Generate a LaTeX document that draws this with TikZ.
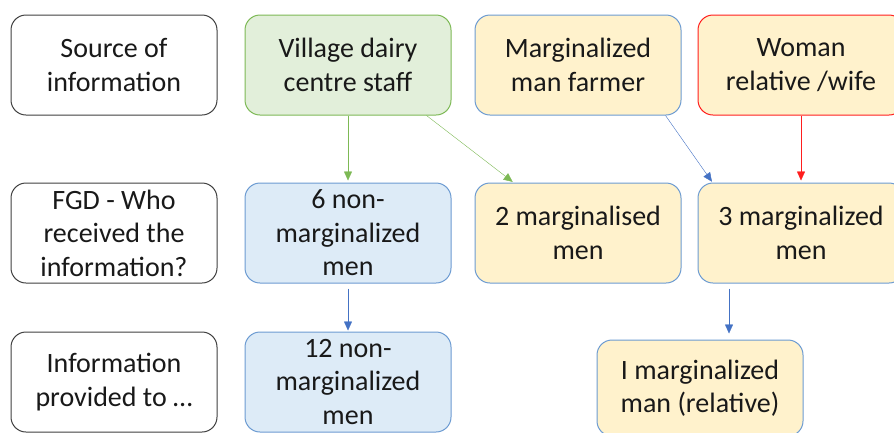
\documentclass[tikz,border=0pt]{standalone}
\usepackage{fontspec}
\setmainfont{Carlito}
\definecolor{officegreen}{RGB}{125,185,85}
\definecolor{palegreen}{RGB}{226,239,218}
\definecolor{officeblue}{RGB}{68,114,196}
\definecolor{lineblue}{RGB}{108,155,210}
\definecolor{paleblue}{RGB}{221,235,247}
\definecolor{paleyellow}{RGB}{255,242,204}
\definecolor{officered}{RGB}{255,30,30}
\definecolor{darkline}{RGB}{64,64,64}
\usetikzlibrary{
  arrows.meta,
  positioning,
}
\tikzset{
  >={Triangle[length=9pt,width=8pt]},
  shorten >=1pt,
  infobox/.style={rectangle,rounded corners=15pt,minimum width=206pt,minimum height=100pt,
    align=center,line width=1pt,text=black!90,font=\fontsize{28}{33.5}\selectfont},
  labelbox/.style={infobox,draw=darkline,fill=white},
  greenbox/.style={infobox,draw=officegreen,fill=palegreen},
  bluebox/.style={infobox,draw=lineblue,fill=paleblue},
  yellowbox/.style={infobox,draw=lineblue,fill=paleyellow},
  redbox/.style={infobox,draw=officered,fill=paleyellow},
}

\begin{document}
\begin{tikzpicture}
        \useasboundingbox (0,0) rectangle (894pt,-432pt);

        % row labels
        \node[labelbox]    (src)  at (114pt,-65pt)    {Source of\\information};
        \node[labelbox]    (fgd)  [below=67pt of src]  {FGD - Who\\received the\\information?};
        \node[labelbox]    (prov) [below=48pt of fgd]  {Information\\provided to \dots};

        % sources
        \node[greenbox]    (staff)  [right=27pt of src]    {Village dairy\\centre staff};
        \node[yellowbox]   (farmer) [right=23pt of staff]  {Marginalized\\man farmer};
        \node[redbox]      (woman)  [right=16pt of farmer] {Woman\\relative /wife};

        % receivers
        \node[bluebox]     (six)   [right=27pt of fgd]  {6 non-\\marginalized\\men};
        \node[yellowbox]   (two)   [right=23pt of six]  {2 marginalised\\men};
        \node[yellowbox]   (three) [right=16pt of two]  {3 marginalized\\men};

        % passed on to
        \node[bluebox]     (twelve) [right=27pt of prov]  {12 non-\\marginalized\\men};
        \node[yellowbox,minimum height=96pt,xshift=-101pt] (one) [below=56pt of three] {I marginalized\\man (relative)};

        \draw[->,officegreen,shorten >=2pt] (staff.south) -- (six.north);
        \draw[->,officegreen] ([xshift=-25pt]staff.south east) -- ([xshift=39pt]two.north west);
        \draw[->,officeblue] ([xshift=-16pt]farmer.south east) -- ([xshift=15pt]three.north west);
        \draw[->,officered,shorten >=2pt] (woman.south) -- (three.north);
        \draw[->,officeblue,shorten <=5pt] (six.south) -- (twelve.north);
        \draw[->,officeblue,shorten <=5pt,shorten >=6pt] ([xshift=-72pt]three.south) -- ([xshift=-72pt]three.south |- one.north);

    \end{tikzpicture}
\end{document}
